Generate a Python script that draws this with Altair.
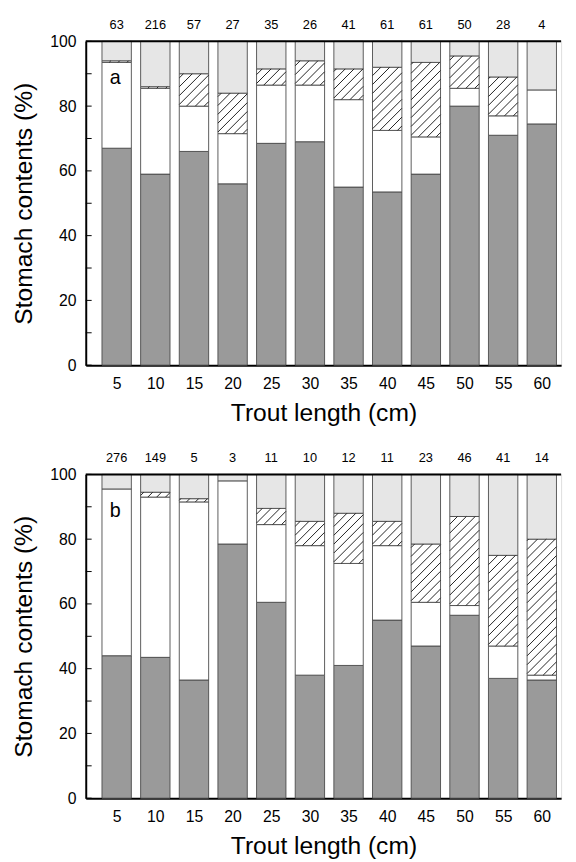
import altair as alt
import pandas as pd

# ---------------- data ----------------
lengths = [5, 10, 15, 20, 25, 30, 35, 40, 45, 50, 55, 60]

counts_a = [63, 216, 57, 27, 35, 26, 41, 61, 61, 50, 28, 4]
gray_a   = [67, 59, 66, 56, 68.5, 69, 55, 53.5, 59, 80, 71, 74.5]
white_a  = [26.5, 26.5, 14, 15.5, 18, 17.5, 27, 19, 11.5, 5.5, 6, 10.5]
hatch_a  = [0.5, 0.5, 10, 12.5, 5, 7.5, 9.5, 19.5, 23, 10, 12, 0]
dot_a    = [6, 14, 10, 16, 8.5, 6, 8.5, 8, 6.5, 4.5, 11, 15]

counts_b = [276, 149, 5, 3, 11, 10, 12, 11, 23, 46, 41, 14]
gray_b   = [44, 43.5, 36.5, 78.5, 60.5, 38, 41, 55, 47, 56.5, 37, 36.5]
white_b  = [51.5, 49.5, 55, 19.5, 24, 40, 31.5, 23, 13.5, 3, 10, 1.5]
hatch_b  = [0, 1.5, 1, 0, 5, 7.5, 15.5, 7.5, 18, 27.5, 28, 42]
dot_b    = [4.5, 5.5, 7.5, 2, 10.5, 14.5, 12, 14.5, 21.5, 13, 25, 20]

categories = ["gray", "white", "hatch", "dot"]
cat_colors = ["#9a9a9a", "#ffffff", "#ffffff", "#e6e6e6"]

y_ticks = [0, 10, 20, 30, 40, 50, 60, 70, 80, 90, 100]

# ---------------- geometry helpers ----------------
W, H = 483, 329
XMIN, XMAX = 1.0, 62.5
HALF = 1.9          # half bar width in x units
kx = W / (XMAX - XMIN)
ky = H / 100.0
STEP = 9.0          # hatch spacing (px)
FONT = "Liberation Sans"

xscale = alt.Scale(domain=[XMIN, XMAX], nice=False, zero=False)
yscale = alt.Scale(domain=[0, 100], nice=False)


def segments(gray, white, hatch, dot):
    rows = []
    for i, L in enumerate(lengths):
        base = 0.0
        for cat, vals in zip(categories, [gray, white, hatch, dot]):
            v = vals[i]
            if v > 0:
                rows.append(dict(length=L, cat=cat, y0=base, y1=base + v,
                                 xl=L - HALF, xr=L + HALF))
            base += v
    return pd.DataFrame(rows)


def hatch_lines(seg):
    rows = []
    for _, r in seg[seg.cat == "hatch"].iterrows():
        Wp = (r.xr - r.xl) * kx
        Hp = (r.y1 - r.y0) * ky
        c = -Wp + STEP / 2
        while c < Hp:
            X0 = max(0.0, -c)
            X1 = min(Wp, Hp - c)
            if X1 > X0:
                rows.append(dict(x1=r.xl + X0 / kx, y1=r.y0 + (X0 + c) / ky,
                                 x2=r.xl + X1 / kx, y2=r.y0 + (X1 + c) / ky))
            c += STEP
    return pd.DataFrame(rows)


def panel(gray, white, hatch, dot, counts, letter):
    seg = segments(gray, white, hatch, dot)
    hl = hatch_lines(seg)

    xaxis = alt.Axis(values=lengths, format="d", ticks=False, grid=False,
                     labelFontSize=16, labelPadding=11, labelColor="black",
                     title="Trout length (cm)", titleFontSize=25,
                     titleFontWeight="normal", titlePadding=9, titleColor="black",
                     domainColor="black", domainWidth=2, labelFont=FONT, titleFont=FONT)
    yaxis = alt.Axis(values=[0, 20, 40, 60, 80, 100], ticks=False, grid=False,
                     labelFontSize=16, labelPadding=10, labelColor="black",
                     title="Stomach contents (%)", titleFontSize=25,
                     titleFontWeight="normal", titlePadding=13, titleColor="black",
                     domainColor="black", domainWidth=2, labelFont=FONT, titleFont=FONT)

    bars = alt.Chart(seg).mark_rect(stroke="#4a4a4a", strokeWidth=0.9).encode(
        x=alt.X("xl:Q", scale=xscale, axis=xaxis),
        x2="xr:Q",
        y=alt.Y("y0:Q", scale=yscale, axis=yaxis),
        y2="y1:Q",
        fill=alt.Fill("cat:N", scale=alt.Scale(domain=categories, range=cat_colors),
                      legend=None),
    )

    hatch_layer = alt.Chart(hl).mark_rule(color="#222222", strokeWidth=1).encode(
        x=alt.X("x1:Q", scale=xscale), x2="x2:Q",
        y=alt.Y("y1:Q", scale=yscale), y2="y2:Q",
    )

    ticks = alt.Chart(pd.DataFrame({"t": y_ticks})).mark_rule(
        color="black", strokeWidth=1).encode(
        y=alt.Y("t:Q", scale=yscale), x=alt.value(0), x2=alt.value(6))

    top = alt.Chart(pd.DataFrame({"t": [100]})).mark_rule(
        color="black", strokeWidth=2).encode(
        y=alt.Y("t:Q", scale=yscale), x=alt.value(0), x2=alt.value(W))

    cnt = alt.Chart(pd.DataFrame({"length": lengths, "n": counts})).mark_text(
        fontSize=13, font=FONT, color="black", baseline="middle").encode(
        x=alt.X("length:Q", scale=xscale), y=alt.value(-17), text="n:Q")

    lab = alt.Chart(pd.DataFrame({"lab": [letter]})).mark_text(
        fontSize=20, font=FONT, color="black", align="center",
        baseline="middle").encode(x=alt.value(30), y=alt.value(37), text="lab:N")

    return alt.layer(bars, hatch_layer, ticks, top, cnt, lab).properties(
        width=W, height=H)


chart = alt.vconcat(
    panel(gray_a, white_a, hatch_a, dot_a, counts_a, "a"),
    panel(gray_b, white_b, hatch_b, dot_b, counts_b, "b"),
    spacing=25,
).properties(
    padding={"left": 3, "right": 5, "top": 3, "bottom": 0}
).configure_view(stroke=None).configure(font=FONT)

chart.save("out.html", embed_options={"renderer": "svg", "actions": False})
